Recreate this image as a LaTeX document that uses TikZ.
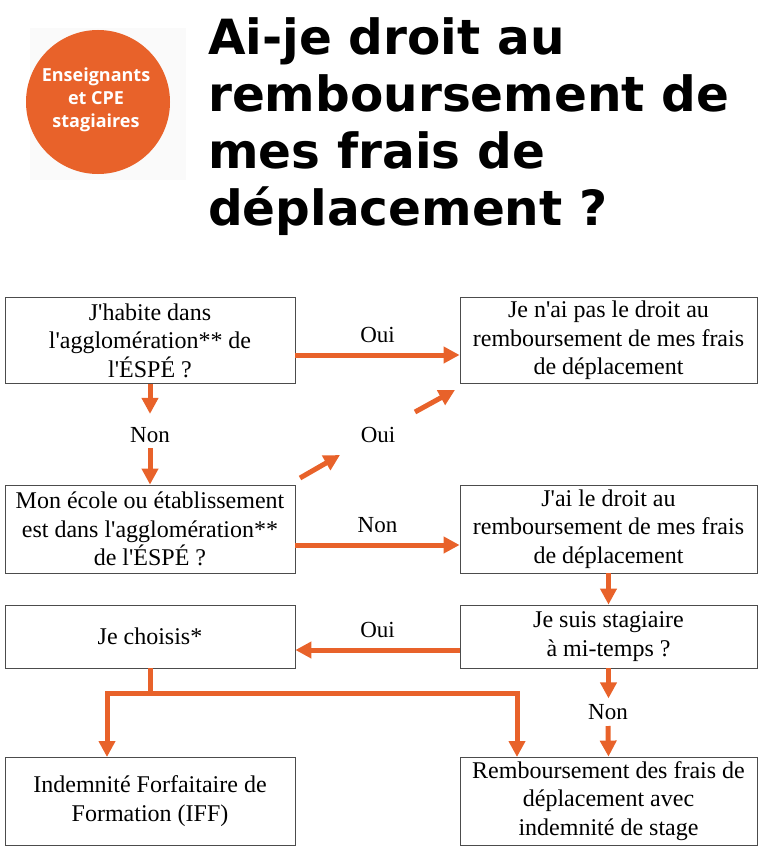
\documentclass[tikz,border=0pt]{standalone}
\usepackage{fontspec}
\setmainfont{Liberation Serif}
\newfontfamily\titlefont{DejaVu Sans}
\newfontfamily\badgefont{Open Sans}
\usetikzlibrary{arrows.meta}
\definecolor{orangeespe}{HTML}{E8622A}
\newcommand\ap{\textquotesingle}
\tikzset{
  box/.style={draw=black!70, line width=0.8pt, minimum width=290pt, minimum height=86pt, align=center, font=\fontsize{24}{28.5}\selectfont, inner sep=2pt},
  flow/.style={draw=orangeespe, line width=5pt, -{Triangle[length=16pt,width=16pt]}},
  lbl/.style={font=\fontsize{23}{27}\selectfont}
}
\begin{document}
\begin{tikzpicture}[x=1pt,y=1pt]
\useasboundingbox (0,0) rectangle (768,-859);
% header
\fill[black!2] (30,-28) rectangle (186,-180);
\fill[orangeespe] (98,-102) circle (72);
\node[text=white, align=center, font=\badgefont\bfseries\fontsize{18}{23}\selectfont] (badge) at (96,-100) {Enseignants\\et CPE\\stagiaires};
\node[anchor=north west, align=left, font=\titlefont\bfseries\fontsize{48.5}{57}\selectfont, inner sep=0pt] (title) at (208,-17) {Ai-je droit au\\remboursement de\\mes frais de\\déplacement ?};

%%%%%%%%%%%%%%%%%%%%%%%%%%%%%%%%%%%%%%%%

\node[box] (habite) at (150,-340.5) {J\ap habite dans\\l\ap agglomération** de\\l\ap ÉSPÉ ?};
\node[box, minimum width=297pt] (pasdroit) at (608.5,-340.5) {Je n\ap ai pas le droit au\\remboursement de mes frais\\de déplacement};
\node[box, minimum height=88pt] (ecole) at (150,-529) {Mon école ou établissement\\est dans l\ap agglomération**\\de l\ap ÉSPÉ ?};
\node[box, minimum width=297pt, minimum height=88pt] (droit) at (608.5,-529) {J\ap ai le droit au\\remboursement de mes frais\\de déplacement};
\node[box, minimum height=63pt] (choisis) at (150,-636.5) {Je choisis*};
\node[box, minimum width=297pt, minimum height=63pt] (mitemps) at (608.5,-636.5) {Je suis stagiaire\\à mi-temps ?};
\node[box, minimum height=88pt] (iff) at (150,-801) {Indemnité Forfaitaire de\\Formation (IFF)};
\node[box, minimum width=297pt, minimum height=88pt] (rembours) at (608.5,-801) {Remboursement des frais de\\déplacement avec\\indemnité de stage};

\draw[flow] (habite.east |- 0,-355) -- (pasdroit.west |- 0,-355) node[lbl, midway, above=6pt]{Oui};
\draw[flow] (habite.south) -- ++(0,-30);
\node[lbl] (non1) at (150,-435) {Non};
\draw[flow] (150,-448) -- (ecole.north);
\draw[flow] (300,-478) -- (340,-455);
\draw[flow] (415,-412) -- (455,-390);
\node[lbl] (oui2) at (378,-435) {Oui};
\draw[flow] (ecole.east |- 0,-545) -- (droit.west |- 0,-545) node[lbl, midway, above=6pt]{Non};
\draw[flow] (droit.south) -- (mitemps.north);
\draw[flow] (mitemps.west |- 0,-650) -- (choisis.east |- 0,-650) node[lbl, midway, above=6pt]{Oui};
\draw[flow] (mitemps.south) -- ++(0,-30);
\node[lbl] (non3) at (608,-712) {Non};
\draw[flow] (608,-726) -- (rembours.north);
\draw[draw=orangeespe, line width=5pt] (choisis.south) -- (150,-693);
\draw[flow] (150,-693) -| (107,-757);
\draw[flow] (150,-693) -| (517,-757);
\end{tikzpicture}
\end{document}
